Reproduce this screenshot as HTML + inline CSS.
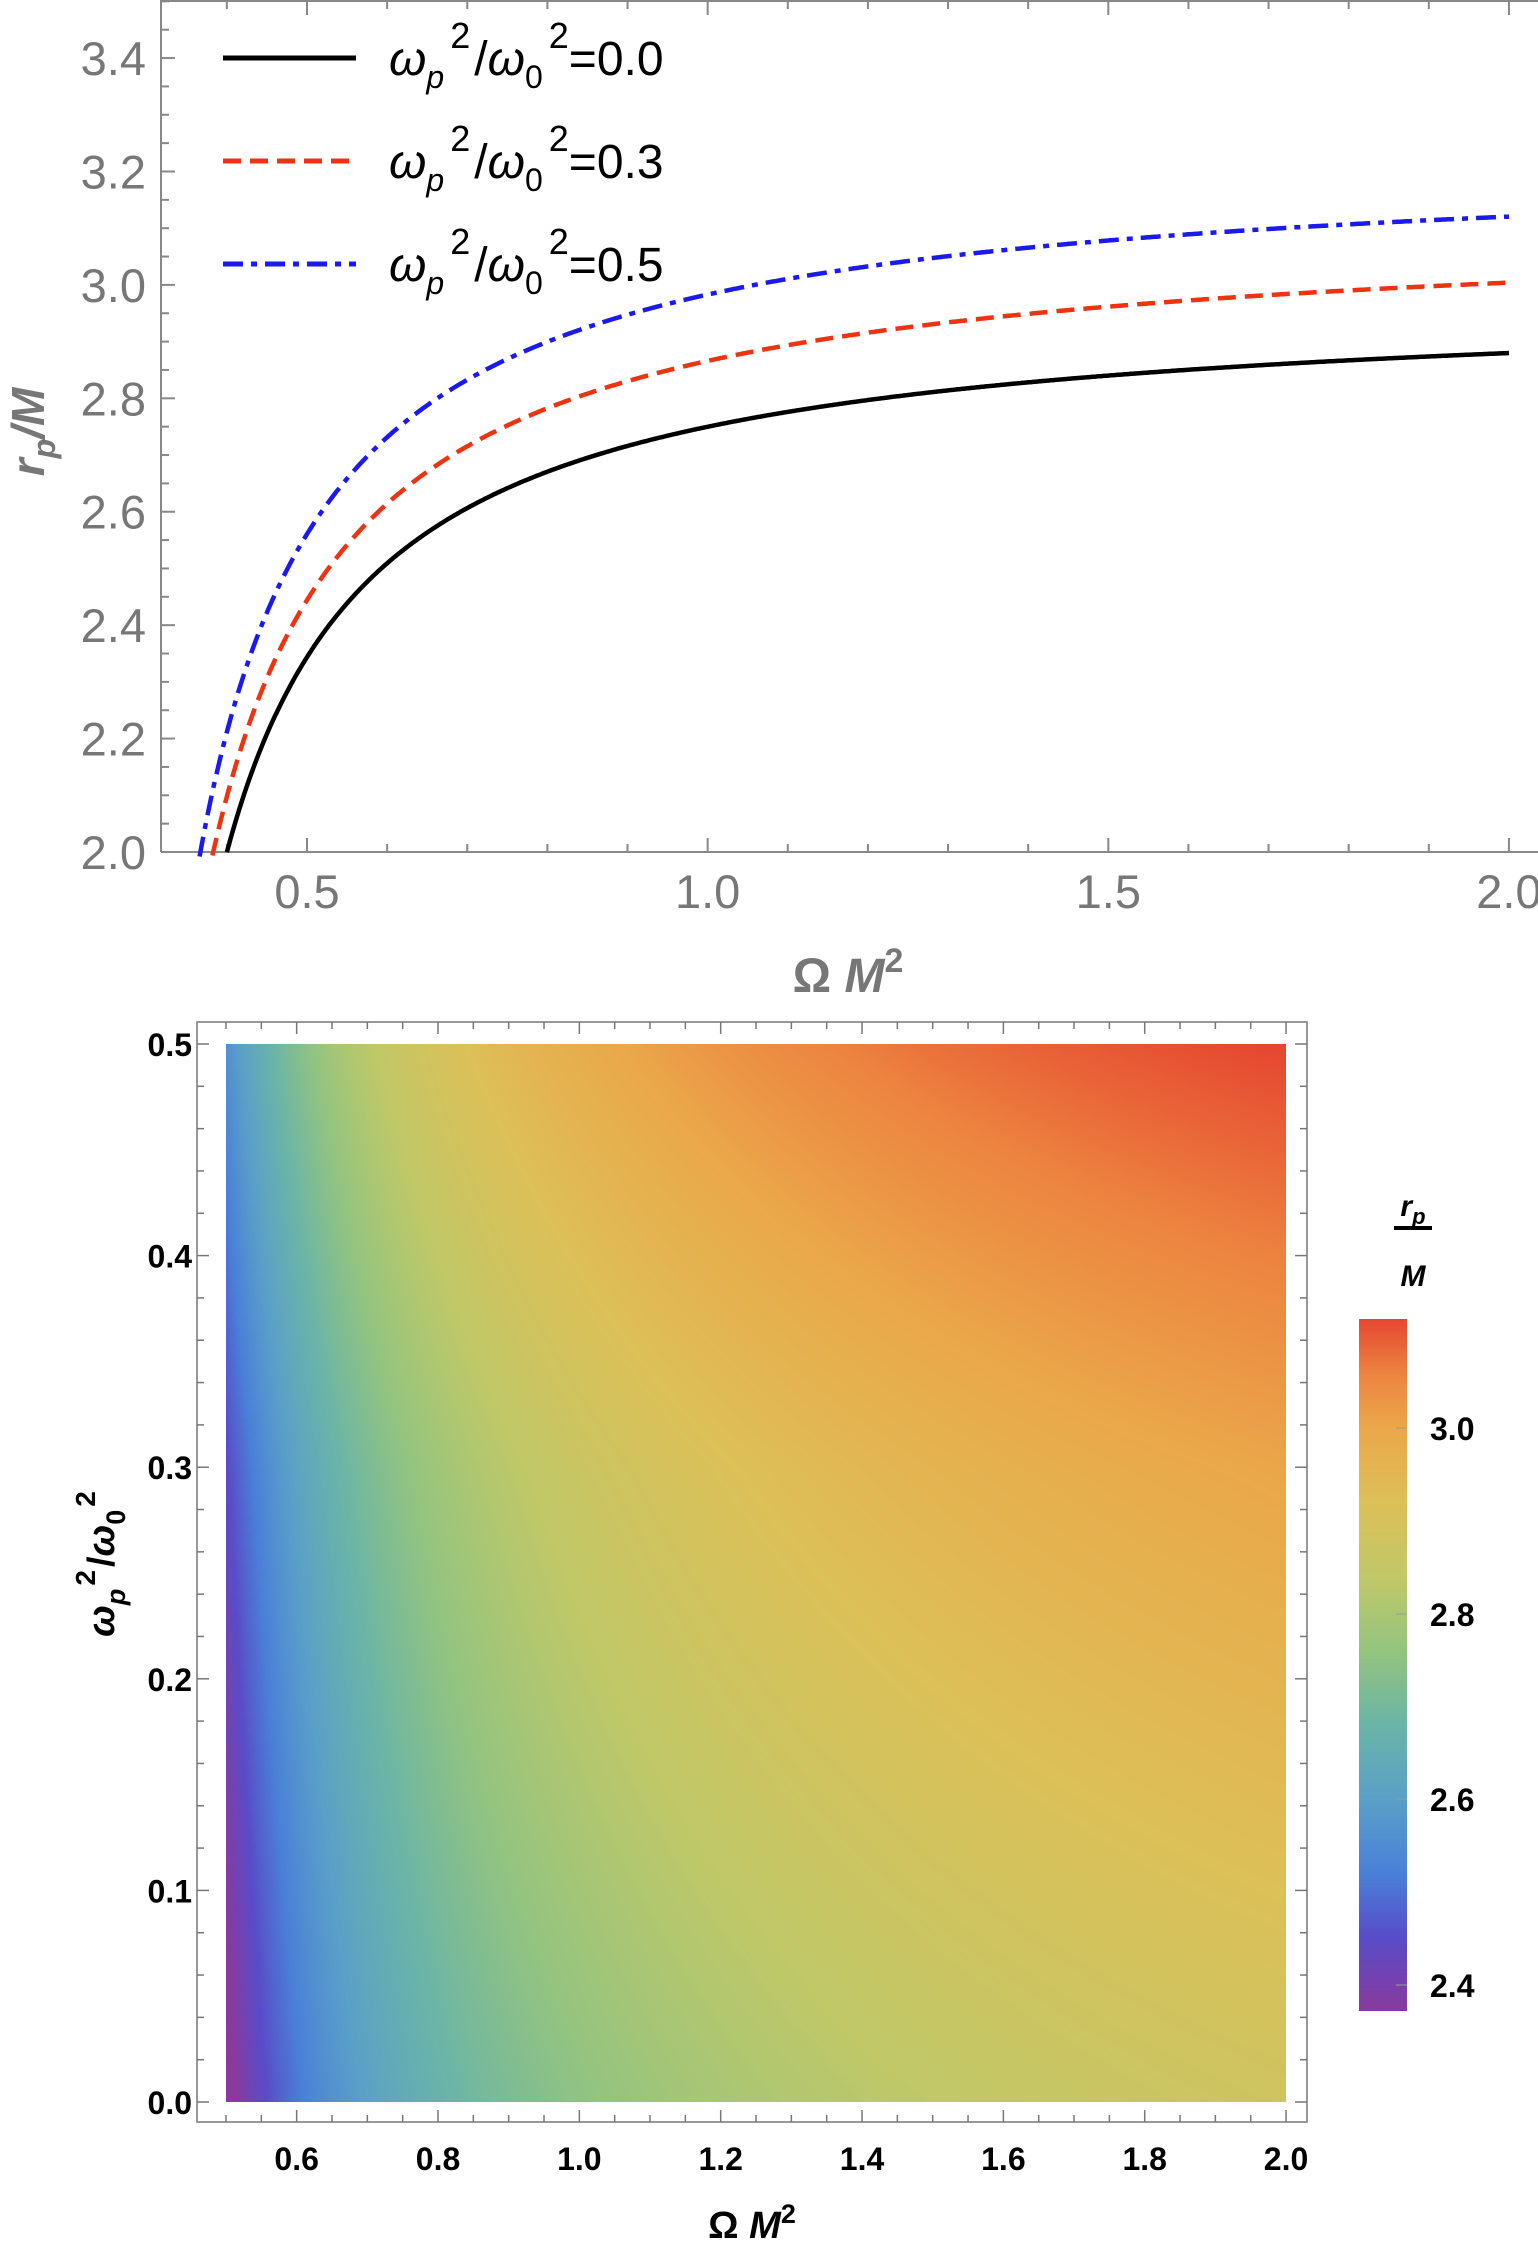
<!DOCTYPE html>
<html><head><meta charset="utf-8"><style>
html,body{margin:0;padding:0;background:#fff;}
svg{position:absolute;left:0;top:0;}
canvas{position:absolute;}
</style></head><body>
<canvas id="hm" width="1060" height="1058" style="left:226px;top:1044px;"></canvas>
<canvas id="cb" width="48" height="692" style="left:1359px;top:1319px;"></canvas>
<svg id="s" width="1538" height="2258" xmlns="http://www.w3.org/2000/svg" font-family="Liberation Sans, sans-serif"></svg>
<script>
const NS="http://www.w3.org/2000/svg",S=document.getElementById('s');
function el(t,a,txt){const e=document.createElementNS(NS,t);for(const k in a)e.setAttribute(k,a[k]);if(txt!==undefined)e.innerHTML=txt;S.appendChild(e);return e;}
// ---- top plot
const X=o=>307+(o-0.5)*801.3, Y=r=>852-(r-2)*567.1;
el('line',{x1:161,y1:852,x2:1538,y2:852,stroke:'#888','stroke-width':2});
el('line',{x1:161,y1:0,x2:161,y2:852,stroke:'#888','stroke-width':2});
el('line',{x1:161,y1:1,x2:1538,y2:1,stroke:'#888','stroke-width':2});
for(let i=0;i<=30;i++){const r=2+i*0.05,y=Y(r);if(y<0)break;const maj=i%4==0;
 el('line',{x1:161,y1:y,x2:161+(maj?14:8),y2:y,stroke:'#888','stroke-width':2});
 if(maj)el('text',{x:146,y:y+17,'text-anchor':'end','font-size':47,fill:'#777'},r.toFixed(1));}
for(let i=0;i<=20;i++){const o=0.3+i*0.1;const x=X(o);if(x<161)continue;const maj=Math.abs(o*2-Math.round(o*2))<1e-6;
 el('line',{x1:x,y1:852,x2:x,y2:852-(maj?14:8),stroke:'#888','stroke-width':2});
 el('line',{x1:x,y1:1,x2:x,y2:1+(maj?14:8),stroke:'#888','stroke-width':2});
 if(maj)el('text',{x:x,y:908,'text-anchor':'middle','font-size':47,fill:'#777'},o.toFixed(1));}
function curve(A,B,c){let d='';for(let o=0.36;o<=2.0001;o+=0.002){const r=A-B/(o-c);if(r<1.99)continue;d+=(d?'L':'M')+X(o).toFixed(1)+' '+Y(r).toFixed(1);}return d;}
el('path',{d:curve(2.982,0.1824,0.2143),fill:'none',stroke:'#000','stroke-width':4.5});
el('path',{d:curve(3.1135,0.1964,0.2066),fill:'none',stroke:'#ee3311','stroke-width':4.5,'stroke-dasharray':'18 9'});
el('path',{d:curve(3.2293,0.1950,0.2084),fill:'none',stroke:'#1a1aee','stroke-width':4.5,'stroke-dasharray':'20 8 6 8'});
const leg=[[58,'#000','none','0.0'],[161,'#ee3311','18 9','0.3'],[264,'#1a1aee','20 8 6 8','0.5']];
leg.forEach(l=>{el('line',{x1:223,y1:l[0],x2:356,y2:l[0],stroke:l[1],'stroke-width':5,'stroke-dasharray':l[2]});
 el('text',{x:389,y:l[0]+17,'font-size':48,fill:'#000'},'<tspan font-style="italic">ω</tspan><tspan font-size="32" font-style="italic" dy="13">p</tspan><tspan font-size="36" dx="6" dy="-40">2</tspan><tspan dx="4" dy="27">/</tspan><tspan font-style="italic">ω</tspan><tspan font-size="32" dy="13">0</tspan><tspan font-size="36" dx="6" dy="-40">2</tspan><tspan dy="27">=0.'+l[3].slice(2)+'</tspan>');});
el('text',{transform:'translate(44,432) rotate(-90)','text-anchor':'middle','font-size':46,'font-weight':'bold','font-style':'italic',fill:'#777'},'r<tspan font-size="32" dy="11">p</tspan><tspan dy="-11">/M</tspan>');
el('text',{x:848,y:992,'text-anchor':'middle','font-size':48,'font-weight':'bold',fill:'#777'},'Ω <tspan font-style="italic">M</tspan><tspan font-size="34" dy="-20">2</tspan>');
// ---- bottom plot
const L=197,R=1307,T=1022,Bt=2122,XX=o=>226+(o-0.5)*706.7,YY=w=>2102-w*2116;
el('rect',{x:L,y:T,width:R-L,height:Bt-T,fill:'none',stroke:'#777','stroke-width':1.5});
for(let i=0;i<=30;i++){const o=0.5+i*0.05,x=XX(o);const isMaj=Math.abs(o*5-Math.round(o*5))<1e-6;
 const len=isMaj?12:7;
 el('line',{x1:x,y1:Bt,x2:x,y2:Bt-len,stroke:'#777','stroke-width':1.5});
 el('line',{x1:x,y1:T,x2:x,y2:T+len,stroke:'#777','stroke-width':1.5});
 if(isMaj&&o>0.55)el('text',{x:x,y:2170,'text-anchor':'middle','font-size':32,'font-weight':'bold'},o.toFixed(1));}
for(let i=0;i<=25;i++){const w=i*0.02,y=YY(w);const isMaj=i%5==0;const len=isMaj?12:7;
 el('line',{x1:L,y1:y,x2:L+len,y2:y,stroke:'#777','stroke-width':1.5});
 el('line',{x1:R,y1:y,x2:R-len,y2:y,stroke:'#777','stroke-width':1.5});
 if(isMaj)el('text',{x:192,y:y+12,'text-anchor':'end','font-size':32,'font-weight':'bold'},w.toFixed(1));}
el('text',{transform:'translate(114,1564) rotate(-90)','text-anchor':'middle','font-size':38,'font-weight':'bold'},'<tspan font-style="italic">ω</tspan><tspan font-size="27" font-style="italic" dy="11">p</tspan><tspan font-size="28" dx="3" dy="-30">2</tspan><tspan dx="3" dy="19">/</tspan><tspan font-style="italic">ω</tspan><tspan font-size="27" dy="11">0</tspan><tspan font-size="28" dx="3" dy="-30">2</tspan>');
el('text',{x:752,y:2238,'text-anchor':'middle','font-size':38,'font-weight':'bold'},'Ω <tspan font-style="italic">M</tspan><tspan font-size="27" dy="-15">2</tspan>');
el('text',{x:1413,y:1216,'text-anchor':'middle','font-size':30,'font-weight':'bold','font-style':'italic'},'r<tspan font-size="22" dy="8">p</tspan>');
el('line',{x1:1394,y1:1228,x2:1432,y2:1228,stroke:'#000','stroke-width':4});
el('text',{x:1413,y:1286,'text-anchor':'middle','font-size':30,'font-weight':'bold','font-style':'italic'},'M');
[[3.0,1428],[2.8,1614],[2.6,1799],[2.4,1985]].forEach(t=>{
 el('text',{x:1430,y:t[1]+12,'font-size':32,'font-weight':'bold'},t[0].toFixed(1));
 el('line',{x1:1396,y1:t[1],x2:1407,y2:t[1],stroke:'#999','stroke-width':1});});
// colormap
const stops=[[2.37,[138,58,156]],[2.45,[90,76,200]],[2.52,[74,128,216]],[2.6,[90,160,200]],[2.68,[106,180,168]],[2.76,[148,196,128]],[2.84,[192,200,104]],[2.92,[220,192,88]],[3.0,[234,168,74]],[3.06,[236,132,64]],[3.13,[228,60,46]]];
function cmap(v){if(v<=stops[0][0])return stops[0][1];for(let i=1;i<stops.length;i++){if(v<=stops[i][0]){const a=stops[i-1],b=stops[i],t=(v-a[0])/(b[0]-a[0]);return a[1].map((c,k)=>c+(b[1][k]-c)*t);}}return stops[stops.length-1][1];}
const P=[[0,2.982,0.1824,0.2143],[0.3,3.1135,0.1964,0.2066],[0.5,3.2293,0.1950,0.2084]];
function rv(o,w){let a,b;if(w<=0.3){a=P[0];b=P[1];}else{a=P[1];b=P[2];}const t=(w-a[0])/(b[0]-a[0]);const A=a[1]+(b[1]-a[1])*t,B=a[2]+(b[2]-a[2])*t,c=a[3]+(b[3]-a[3])*t;return A-B/(o-c);}
const hc=document.getElementById('hm').getContext('2d'),W=1060,H=1058,img=hc.createImageData(W,H);
for(let y=0;y<H;y++){const w=0.5*(1-y/(H-1));for(let x=0;x<W;x++){const o=0.5+1.5*x/(W-1);const c=cmap(rv(o,w));const i=(y*W+x)*4;img.data[i]=c[0];img.data[i+1]=c[1];img.data[i+2]=c[2];img.data[i+3]=255;}}
hc.putImageData(img,0,0);
const cc=document.getElementById('cb').getContext('2d');
for(let y=0;y<692;y++){const v=3.118-(y/691)*(3.118-2.372);const c=cmap(v);cc.fillStyle='rgb('+c.map(Math.round).join(',')+')';cc.fillRect(0,y,48,1);}
</script>
</body></html>
